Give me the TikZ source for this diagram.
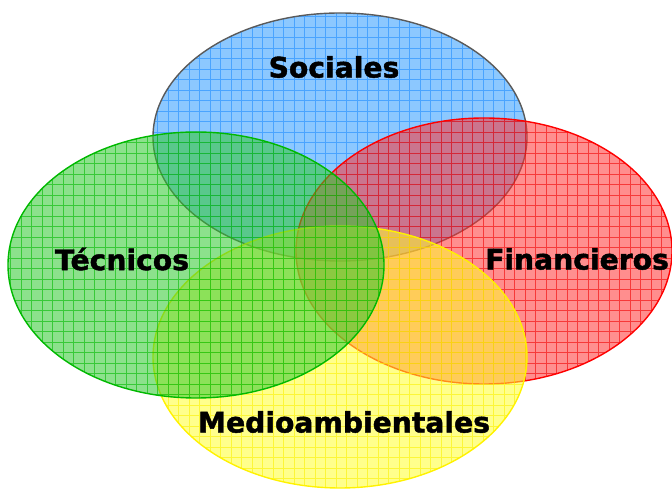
\documentclass[tikz,border=0pt]{standalone}
\usepackage{fontspec}
\setmainfont{DejaVu Sans}
\newfontfamily\labelfont{DejaVu Sans Bold}[FakeBold=1.6]
\usepackage{xcolor}
\usepackage{tikz}

\definecolor{socfill}{RGB}{46,155,255}
\definecolor{socgrid}{RGB}{30,140,255}
\definecolor{socline}{RGB}{90,90,90}
\definecolor{tecfill}{RGB}{46,200,46}
\definecolor{tecgrid}{RGB}{0,185,0}
\definecolor{finfill}{RGB}{255,50,50}
\definecolor{fingrid}{RGB}{240,0,0}
\definecolor{medfill}{RGB}{255,255,46}
\definecolor{medgrid}{RGB}{250,240,0}

\begin{document}
\begin{tikzpicture}[x=1pt, y=1pt,
    area/.style={fill opacity=0.55},
    gridlines/.style={line width=0.9pt, opacity=0.6},
    rim/.style={line width=1.4pt},
    label/.style={font=\labelfont\fontsize{28.2}{31}\selectfont, text=black, inner sep=0pt}]

    \useasboundingbox (0,0) rectangle (672,489);

    % Sociales (top)
    \fill[socfill, area] (340,352) ellipse [x radius=187, y radius=124];
    \begin{scope}
        \clip (340,352) ellipse [x radius=187, y radius=124];
        \draw[socgrid, gridlines, step=10.5] (0,0) grid (672,489);
    \end{scope}
    \draw[socline, rim] (340,352) ellipse [x radius=187, y radius=124];

    % Financieros (right)
    \fill[finfill, area] (484,238) ellipse [x radius=188, y radius=133];
    \begin{scope}
        \clip (484,238) ellipse [x radius=188, y radius=133];
        \draw[fingrid, gridlines, step=10.5] (0,0) grid (672,489);
    \end{scope}
    \draw[red, rim] (484,238) ellipse [x radius=188, y radius=133];

    % Medioambientales (bottom)
    \fill[medfill, area] (340,132) ellipse [x radius=187, y radius=131];
    \begin{scope}
        \clip (340,132) ellipse [x radius=187, y radius=131];
        \draw[medgrid, gridlines, step=10.5] (0,0) grid (672,489);
    \end{scope}
    \draw[yellow, rim] (340,132) ellipse [x radius=187, y radius=131];

    % Tecnicos (left)
    \fill[tecfill, area] (196,224) ellipse [x radius=188, y radius=133];
    \begin{scope}
        \clip (196,224) ellipse [x radius=188, y radius=133];
        \draw[tecgrid, gridlines, step=10.5] (0,0) grid (672,489);
    \end{scope}
    \draw[tecgrid, rim] (196,224) ellipse [x radius=188, y radius=133];

    % Labels
    \node[label] (sociales) at (334,422) {Sociales};
    \node[label] (tecnicos) at (122,230) {Técnicos};
    \node[label] (financieros) at (577,230) {Financieros};
    \node[label] (medio) at (344,67) {Medioambientales};

\end{tikzpicture}
\end{document}
